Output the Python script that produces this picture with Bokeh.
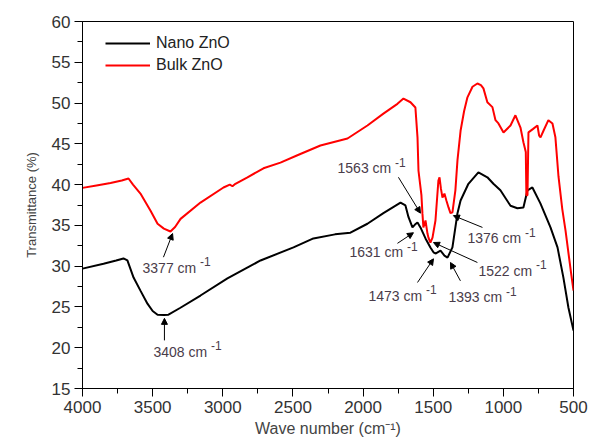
from bokeh.plotting import figure
from bokeh.models import Range1d, SingleIntervalTicker, ColumnDataSource, Arrow, NormalHead, Legend, LegendItem
from bokeh.core.properties import value
from bokeh.embed import file_html
from bokeh.resources import INLINE

# ---- data ----
nano_wn = [4000, 3850, 3760, 3708, 3680, 3636, 3587, 3537, 3500, 3465, 3420, 3387, 3302, 3159,
           2967, 2731, 2496, 2354, 2200, 2090, 1969, 1855, 1733, 1698, 1676, 1648, 1630, 1612,
           1591, 1555, 1520, 1498, 1484, 1448, 1420, 1398, 1363, 1327, 1305, 1249, 1178, 1114,
           1071, 1021, 949, 900, 857, 828, 793, 736, 664, 614, 572, 536, 500]
nano_t = [29.7, 30.3, 30.7, 30.95, 30.7, 28.6, 27.0, 25.4, 24.5, 24.05, 24.0, 24.05, 24.9, 26.4,
          28.5, 30.7, 32.3, 33.4, 33.9, 34.1, 35.2, 36.5, 37.8, 37.45, 36.0, 34.75, 35.1, 35.35,
          34.75, 33.4, 32.3, 31.7, 31.55, 31.9, 31.3, 31.05, 32.3, 36.5, 38.05, 40.1, 41.5, 40.9,
          40.1, 39.3, 37.4, 37.1, 37.2, 39.3, 39.65, 37.7, 34.75, 32.3, 28.6, 24.9, 22.1]

bulk_wn = [4000, 3900, 3800, 3720, 3672, 3640, 3587, 3515, 3465, 3420, 3373, 3340, 3301, 3159,
           2995, 2950, 2931, 2910, 2824, 2710, 2589, 2468, 2304, 2111, 1969, 1855, 1755, 1712,
           1662, 1627, 1612, 1605, 1584, 1577, 1570, 1555, 1541, 1534, 1520, 1505, 1484, 1463,
           1455, 1445, 1434, 1420, 1405, 1391, 1377, 1363, 1342, 1327, 1305, 1280, 1256, 1220,
           1185, 1160, 1142, 1114, 1078, 1056, 1035, 999, 949, 914, 878, 857, 840, 836, 828, 821,
           790, 757, 745, 735, 714, 679, 650, 629, 607, 580, 557, 520, 500]
bulk_t = [39.6, 39.9, 40.2, 40.5, 40.75, 40.0, 38.9, 36.8, 35.2, 34.6, 34.25, 34.8, 35.8, 37.8,
          39.65, 40.0, 39.8, 40.1, 40.9, 42.0, 42.7, 43.6, 44.8, 45.65, 47.25, 48.7, 49.9, 50.55,
          50.1, 49.45, 45.8, 41.7, 38.7, 36.5, 34.75, 35.6, 34.0, 33.5, 32.9, 33.5, 35.6, 40.5,
          40.9, 39.5, 38.4, 38.9, 38.0, 37.2, 36.5, 36.6, 39.3, 43.0, 46.6, 49.0, 50.7, 52.0,
          52.4, 52.2, 51.8, 50.1, 49.5, 47.9, 47.5, 46.4, 47.25, 48.5, 47.0, 45.2, 44.0, 38.7, 38.7,
          46.4, 46.8, 47.25, 46.0, 45.8, 46.6, 47.9, 47.5, 45.8, 41.0, 37.0, 34.4, 29.5, 27.0]

series_names = ["Nano ZnO", "Bulk ZnO"]

x_ticks_interval = 500
y_ticks_interval = 5

# annotations: label number, label anchor (wn, T), arrow start (wn, T), arrow tip (wn, T)
ann_num = ["3377", "3408", "1563", "1631", "1473", "1393", "1522", "1376"]
ann_x = [3572, 3494, 2182, 2097, 1962, 1391, 1178, 1256]
ann_y = [29.8, 19.5, 42.0, 31.7, 26.4, 26.2, 29.45, 33.4]
arr_x0 = [3423, 3416, 1748, 1755, 1612, 1306, 1185, 1149]
arr_y0 = [31.1, 20.9, 40.9, 32.8, 28.0, 28.2, 30.45, 34.75]
arr_x1 = [3358, 3416, 1591, 1641, 1498, 1377, 1498, 1356]
arr_y1 = [34.0, 23.6, 36.5, 34.1, 30.9, 30.45, 32.9, 36.2]

# ---- figure ----
p = figure(width=588, height=442, output_backend="svg", toolbar_location=None,
           x_range=Range1d(4000, 500), y_range=Range1d(15, 60),
           min_border_left=82, min_border_right=15, min_border_top=21, min_border_bottom=54)
p.background_fill_color = "white"
p.border_fill_color = "white"
p.outline_line_color = "black"
p.outline_line_width = 1
p.grid.visible = False

r_nano = p.line(nano_wn, nano_t, line_color="black", line_width=2)
r_bulk = p.line(bulk_wn, bulk_t, line_color="#ff0000", line_width=2)

# axes
p.xaxis.ticker = SingleIntervalTicker(interval=x_ticks_interval, num_minor_ticks=2)
p.yaxis.ticker = SingleIntervalTicker(interval=y_ticks_interval, num_minor_ticks=2)
for ax in (p.xaxis[0], p.yaxis[0]):
    ax.axis_line_color = "black"
    ax.major_tick_line_color = "black"
    ax.minor_tick_line_color = "black"
    ax.major_tick_out = 8
    ax.major_tick_in = 0
    ax.minor_tick_out = 5
    ax.minor_tick_in = 0
    ax.major_label_text_font = "Liberation Sans"
    ax.major_label_text_font_size = "17px"
    ax.major_label_text_color = "#333333"
    ax.major_label_standoff = 4
    ax.axis_label_text_font = "Liberation Sans"
    ax.axis_label_text_font_style = "normal"
    ax.axis_label_text_color = "#444444"
p.xaxis.axis_label = "Wave number (cm\u207b\u00b9)"
p.xaxis.axis_label_text_font_size = "16px"
p.xaxis.axis_label_standoff = 4
p.yaxis.axis_label = "Transmittance (%)"
p.yaxis.axis_label_text_font_size = "13px"
p.yaxis.axis_label_standoff = 10

# legend
legend = Legend(items=[LegendItem(label=series_names[0], renderers=[r_nano]),
                       LegendItem(label=series_names[1], renderers=[r_bulk])],
                location=(23, 313), padding=0, margin=0, spacing=2,
                glyph_width=45, glyph_height=20, label_height=20, label_standoff=6,
                label_text_font="Liberation Sans", label_text_font_size="16px",
                label_text_color="#222222", border_line_alpha=0, background_fill_alpha=0)
p.add_layout(legend)

# annotations
font_px = 14
wtab = {"0": .556, "1": .556, "2": .556, "3": .556, "4": .556, "5": .556, "6": .556,
        "7": .556, "8": .556, "9": .556, " ": .278, "c": .5, "m": .833}
main_txt = [n + " cm" for n in ann_num]
sup_off = [sum(wtab[ch] for ch in t + " ") * font_px for t in main_txt]
src = ColumnDataSource(dict(x=ann_x, y=ann_y, t=main_txt, sup=["-1"] * len(ann_num), off=sup_off))
p.text(x="x", y="y", text="t", source=src, text_font=value("Liberation Sans"),
       text_font_size=f"{font_px}px", text_color="#4a3c4a", text_baseline="middle", text_align="left")
p.text(x="x", y="y", text="sup", source=src, x_offset="off", y_offset=-6,
       text_font=value("Liberation Sans"), text_font_size="12px", text_color="#4a3c4a",
       text_baseline="middle", text_align="left")

asrc = ColumnDataSource(dict(x0=arr_x0, y0=arr_y0, x1=arr_x1, y1=arr_y1))
p.add_layout(Arrow(x_start="x0", y_start="y0", x_end="x1", y_end="y1", source=asrc,
                   line_color="black", line_width=1,
                   end=NormalHead(size=6, fill_color="black", line_color="black", line_width=1)))

open("out.html", "w").write(file_html(p, INLINE))
